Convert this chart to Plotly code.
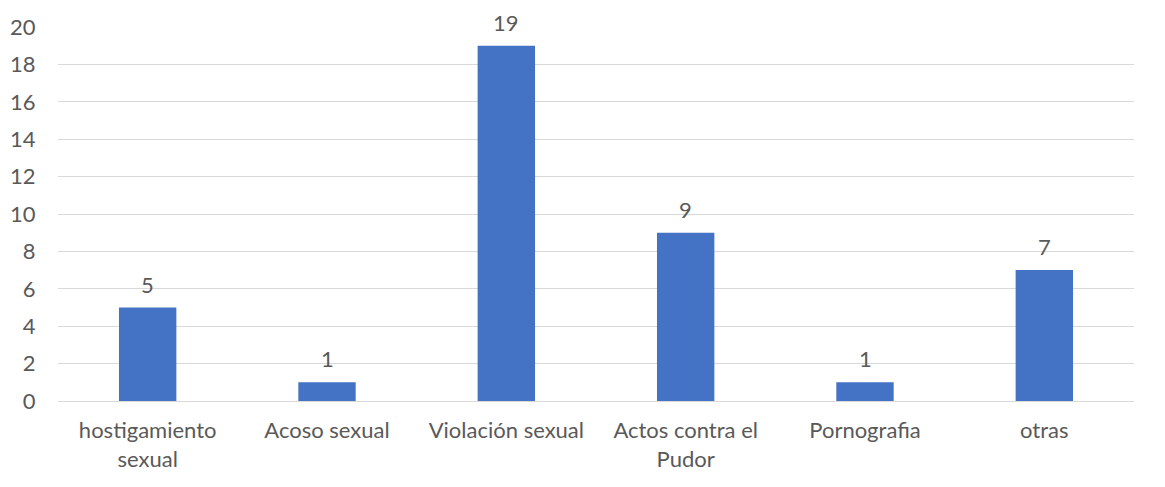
import plotly.graph_objects as go

categories = ["hostigamiento<br>sexual", "Acoso sexual", "Violación sexual",
              "Actos contra el<br>Pudor", "Pornografia", "otras"]
values = [5, 1, 19, 9, 1, 7]
tick_vals = [0, 2, 4, 6, 8, 10, 12, 14, 16, 18, 20]

FONT = "Lato"
TXT = "#595959"
FS = 22

fig = go.Figure(go.Bar(x=categories, y=values, marker=dict(color="#4472C4", line=dict(width=0)),
                       hoverinfo="x+y"))

for c, v in zip(categories, values):
    fig.add_annotation(x=c, y=v, text=str(v), showarrow=False, yanchor="bottom",
                       yshift=9, borderpad=0, font=dict(family=FONT, size=FS, color=TXT))

fig.add_shape(type="line", xref="paper", yref="paper", x0=1.0242, x1=1.0242, y0=-0.25, y1=1.1,
              line=dict(color="#D9D9D9", width=1))

fig.update_layout(
    width=1155, height=475,
    margin=dict(l=50, r=29, t=19, b=82),
    paper_bgcolor="white", plot_bgcolor="white",
    bargap=0.68,
    showlegend=False,
    font=dict(family=FONT, size=FS, color=TXT),
    xaxis=dict(showgrid=False, showline=True, linecolor="#D9D9D9", linewidth=1,
               automargin=False,
               ticks="outside", ticklen=10, tickcolor="rgba(0,0,0,0)",
               tickfont=dict(family=FONT, size=FS, color=TXT)),
    yaxis=dict(range=[0, 20], tickvals=tick_vals, showgrid=True, gridcolor="#D9D9D9",
               gridwidth=1, zeroline=False, showline=False, automargin=False,
               ticks="outside", ticklen=17, tickcolor="rgba(0,0,0,0)",
               tickfont=dict(family=FONT, size=FS, color=TXT)),
)

fig.write_html("out.html")
